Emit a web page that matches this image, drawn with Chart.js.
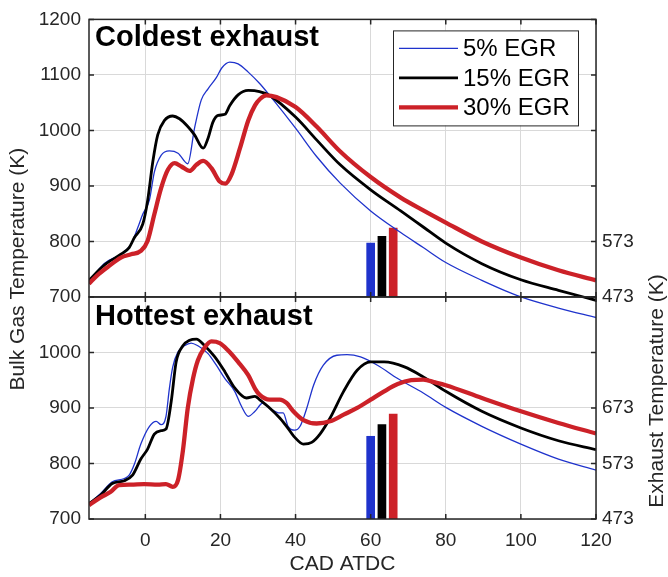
<!DOCTYPE html>
<html>
<head>
<meta charset="utf-8">
<script src="https://cdn.jsdelivr.net/npm/chart.js@4"></script>
<style>
  html, body { margin: 0; padding: 0; background: #fff; }
  #wrap { width: 668px; height: 577px; }
</style>
</head>
<body>
<div id="wrap"><canvas id="egrChart" width="668" height="577"></canvas></div>
<script>
const FONT = '"Liberation Sans", Arial, Helvetica, sans-serif';
const INK = '#262626';

const seriesLabels = ['5% EGR', '15% EGR', '30% EGR'];
const seriesColors = ['#1f33cc', '#000000', '#cc2128'];
const seriesWidths = [1.3, 2.8, 4.3];
const panelTitles = ['Coldest exhaust', 'Hottest exhaust'];

// coldest exhaust: crank angle (CAD ATDC) and bulk gas temperature (K)
const coldCad5 = [-15, -11, -6.5, -3.8, -2, -0.7, 1.1, 2.4, 4.2, 6.4, 8.7, 11.3, 13.1, 14.9, 16.7, 18.9, 20.3, 22.5, 24.7, 27.4, 30.5, 33.1, 40, 45.6, 51.9, 60, 68, 74, 80, 89.6, 100, 110, 120];
const coldTemp5 = [727, 760, 777, 795, 825, 849, 875, 925, 955, 963, 959, 940, 1004, 1055, 1075, 1095, 1112, 1123, 1120, 1105, 1084, 1063, 1004, 953, 905, 855, 816, 789, 762, 730, 700, 680, 663];
const coldCad15 = [-15, -11, -6.5, -4.3, -2.9, -0.7, 0.6, 2, 3.3, 5.1, 7.3, 9.1, 11.3, 13.1, 15.4, 16.7, 18, 19.4, 21.2, 22.5, 24.7, 27.4, 30.4, 33.1, 40, 45.6, 51.9, 60, 68, 74, 80, 89.6, 100, 110, 120];
const coldTemp15 = [730, 757, 777, 789, 807, 831, 873, 944, 992, 1018, 1026, 1021, 1007, 992, 968, 986, 1015, 1027, 1029, 1045, 1064, 1072, 1070, 1063, 1024, 983, 938, 893, 855, 826, 797, 760, 731, 712, 694];
const coldCad30 = [-15, -12.8, -10, -6.5, -3.8, -1.2, 0.6, 2.4, 4.2, 6, 7.8, 9.6, 11.8, 13.6, 15.4, 17.6, 19.8, 21.3, 22.9, 25.2, 27.4, 29.2, 30.6, 32.2, 34.9, 40, 45.6, 51.9, 60, 68, 74, 80, 89.6, 100, 110, 120];
const coldTemp30 = [724, 739, 754, 771, 777, 783, 801, 849, 896, 929, 941, 935, 927, 938, 945, 932, 908, 904, 920, 968, 1018, 1045, 1057, 1063, 1060, 1042, 1007, 962, 916, 879, 856, 834, 800, 771, 748, 730];

// hottest exhaust
const hotCad5 = [-15, -11.9, -8.8, -5.6, -4.3, -2.9, -1.2, 1.1, 2.9, 4.2, 5.5, 6.4, 7.3, 8.7, 10.4, 12.2, 14, 16.7, 18.9, 21.2, 23.8, 25.6, 27.4, 29.2, 31.3, 33.1, 35.8, 36.7, 38, 39.8, 41.2, 43, 44.8, 47.4, 51, 53.7, 57.3, 61.8, 67.2, 74, 80, 89.6, 100, 110, 120];
const hotTemp5 = [728, 746, 767, 773, 779, 799, 835, 867, 876, 870, 885, 935, 974, 1001, 1012, 1017, 1012, 998, 977, 953, 930, 903, 885, 894, 909, 900, 891, 891, 867, 860, 867, 900, 941, 977, 995, 996, 992, 977, 953, 927, 901, 867, 835, 808, 788];
const hotCad15 = [-15, -11.9, -8.8, -5.6, -3.4, -1.2, 0.6, 2.4, 4.2, 5.5, 6.9, 8.2, 10, 11.8, 13.6, 15.8, 18.5, 21.2, 23.8, 26.9, 29.2, 30.4, 33.1, 35.8, 37.6, 39.8, 42.1, 44.3, 46.5, 49.2, 52.8, 56.4, 60, 63.6, 69, 74, 80, 89.6, 100, 110, 120];
const hotTemp15 = [728, 743, 764, 769, 779, 808, 826, 853, 859, 862, 912, 983, 1012, 1022, 1024, 1012, 992, 965, 936, 918, 921, 915, 900, 882, 867, 847, 835, 838, 853, 882, 930, 968, 983, 983, 974, 956, 930, 894, 864, 841, 825];
const hotCad30 = [-15, -11.9, -9.2, -7, -3.8, -0.3, 3.3, 5.5, 7.3, 8.7, 10, 11.3, 12.7, 14, 15.8, 17.6, 19.8, 22, 24.7, 27.4, 29.2, 30.4, 33.1, 35.8, 37.6, 39.4, 42.1, 45.6, 49.2, 52.8, 56.4, 60, 63.6, 67.2, 70.8, 74, 77.2, 80, 89.6, 100, 110, 120];
const hotTemp30 = [725, 739, 749, 761, 762, 763, 762, 763, 758, 770, 823, 900, 953, 986, 1009, 1020, 1017, 1004, 983, 959, 935, 924, 915, 915, 909, 894, 878, 872, 876, 888, 900, 915, 930, 943, 950, 951, 946, 941, 918, 894, 873, 854];

// exhaust temperature bars (K), right axis
const barCad = [60, 63, 66];
const coldExhaust = [570, 582, 597];
const hotExhaust = [622, 643, 662];

// tick labels
const xTicks = [0, 20, 40, 60, 80, 100, 120];
const coldTicks = [700, 800, 900, 1000, 1100, 1200];
const hotTicks = [700, 800, 900, 1000];
const coldExhaustTicks = [473, 573];
const hotExhaustTicks = [473, 573, 673];

function curve(cad, temp, i, axis) {
    return {
        type: 'line',
        label: seriesLabels[i],
        data: cad.map((c, k) => ({ x: c, y: temp[k] })),
        yAxisID: axis,
        borderColor: seriesColors[i],
        backgroundColor: seriesColors[i],
        borderWidth: seriesWidths[i],
        pointRadius: 0,
        cubicInterpolationMode: 'monotone',
        order: 3 - i
    };
}

function bars(values, axis, base) {
    return values.map((v, i) => ({
        type: 'bar',
        label: seriesLabels[i] + ' exhaust',
        data: [{ x: barCad[i], y: v }],
        yAxisID: axis,
        backgroundColor: seriesColors[i],
        barThickness: 8,
        grouped: false,
        base: base,
        order: 6
    }));
}

function fixedTicks(list) {
    return function (scale) {
        scale.ticks = list.map(v => ({ value: v }));
    };
}

const tickFont = { family: FONT, size: 19 };
const plainLabel = v => String(v);

const panelFrame = {
    id: 'panelFrame',
    afterDraw(chart) {
        const { ctx, chartArea, scales } = chart;
        const { left, right } = chartArea;
        ctx.save();

        // boxes and inward ticks
        ctx.strokeStyle = INK;
        ctx.lineWidth = 1.5;
        [scales.yTop, scales.yBot].forEach(ys => {
            ctx.strokeRect(left, ys.top, right - left, ys.bottom - ys.top);
            ctx.beginPath();
            ys.ticks.forEach(t => {
                const y = ys.getPixelForValue(t.value);
                ctx.moveTo(left, y); ctx.lineTo(left + 5, y);
                ctx.moveTo(right, y); ctx.lineTo(right - 5, y);
            });
            scales.x.ticks.forEach(t => {
                const x = scales.x.getPixelForValue(t.value);
                ctx.moveTo(x, ys.top); ctx.lineTo(x, ys.top + 5);
                ctx.moveTo(x, ys.bottom); ctx.lineTo(x, ys.bottom - 5);
            });
            ctx.stroke();
        });

        // panel titles
        ctx.fillStyle = '#000';
        ctx.font = 'bold 29px ' + FONT;
        ctx.textAlign = 'left';
        ctx.textBaseline = 'alphabetic';
        ctx.fillText(panelTitles[0], left + 6, scales.yTop.top + 27);
        ctx.fillText(panelTitles[1], left + 6, scales.yBot.top + 28);

        // legend
        const lx = right - 203, ly = scales.yTop.top + 11, lw = 185, lh = 95;
        ctx.fillStyle = '#fff';
        ctx.fillRect(lx, ly, lw, lh);
        ctx.lineWidth = 1;
        ctx.strokeStyle = INK;
        ctx.strokeRect(lx + 0.5, ly + 0.5, lw, lh);
        ctx.font = '24px ' + FONT;
        ctx.textBaseline = 'middle';
        for (let i = 0; i < 3; i++) {
            const ds = chart.data.datasets[i];
            const y = ly + 18 + i * 29.5;
            ctx.strokeStyle = ds.borderColor;
            ctx.lineWidth = ds.borderWidth;
            ctx.beginPath();
            ctx.moveTo(lx + 6, y);
            ctx.lineTo(lx + 65, y);
            ctx.stroke();
            ctx.fillStyle = '#000';
            ctx.fillText(ds.label, lx + 70, y + 1);
        }

        // vertical axis titles
        ctx.fillStyle = INK;
        ctx.font = '21px ' + FONT;
        ctx.textAlign = 'center';
        ctx.textBaseline = 'middle';
        ctx.translate(18, (scales.yTop.top + scales.yBot.bottom) / 2);
        ctx.rotate(-Math.PI / 2);
        ctx.fillText('Bulk Gas Temperature (K)', 0, 0);
        ctx.setTransform(1, 0, 0, 1, 0, 0);
        ctx.translate(657, 391);
        ctx.rotate(-Math.PI / 2);
        ctx.fillText('Exhaust Temperature (K)', 0, 0);
        ctx.restore();
    }
};

const ctx = document.getElementById('egrChart').getContext('2d');
const egrChart = new Chart(ctx, {
    type: 'line',
    data: {
        datasets: [
            curve(coldCad5, coldTemp5, 0, 'yTop'),
            curve(coldCad15, coldTemp15, 1, 'yTop'),
            curve(coldCad30, coldTemp30, 2, 'yTop'),
            curve(hotCad5, hotTemp5, 0, 'yBot'),
            curve(hotCad15, hotTemp15, 1, 'yBot'),
            curve(hotCad30, hotTemp30, 2, 'yBot'),
            ...bars(coldExhaust, 'rTop', coldExhaustTicks[0]),
            ...bars(hotExhaust, 'rBot', hotExhaustTicks[0])
        ]
    },
    options: {
        responsive: false,
        animation: false,
        devicePixelRatio: 1,
        layout: { padding: { top: 13, left: 0, right: 0, bottom: 0 } },
        plugins: { legend: { display: false }, tooltip: { enabled: false } },
        scales: {
            x: {
                type: 'linear',
                offset: false,
                min: -15,
                max: 120,
                afterBuildTicks: fixedTicks(xTicks),
                afterFit: s => { s.height = 58; },
                grid: { color: '#d9d9d9', drawTicks: false, offset: false },
                border: { display: false },
                ticks: { font: tickFont, color: INK, padding: 10, maxRotation: 0, callback: plainLabel },
                title: { display: true, text: 'CAD ATDC', color: INK, font: { family: FONT, size: 21 }, padding: { top: 0, bottom: 0 } }
            },
            yBot: {
                type: 'linear',
                position: 'left',
                stack: 'left',
                stackWeight: 4,
                min: 700,
                max: 1100,
                afterBuildTicks: fixedTicks(hotTicks),
                afterFit: s => { s.width = 89; },
                grid: { color: '#d9d9d9', drawTicks: false },
                border: { display: false },
                ticks: { font: tickFont, color: INK, padding: 8, callback: plainLabel }
            },
            yTop: {
                type: 'linear',
                position: 'left',
                stack: 'left',
                stackWeight: 5,
                min: 700,
                max: 1200,
                clip: false,
                afterBuildTicks: fixedTicks(coldTicks),
                afterFit: s => { s.width = 89; },
                grid: { color: '#d9d9d9', drawTicks: false },
                border: { display: false },
                ticks: { font: tickFont, color: INK, padding: 8, callback: plainLabel }
            },
            rTop: {
                type: 'linear',
                position: 'right',
                stack: 'right',
                stackWeight: 5,
                min: 473,
                max: 973,
                afterBuildTicks: fixedTicks(coldExhaustTicks),
                afterFit: s => { s.width = 72; },
                grid: { display: false, drawTicks: false },
                border: { display: false },
                ticks: { font: tickFont, color: INK, padding: 6, callback: plainLabel }
            },
            rBot: {
                type: 'linear',
                position: 'right',
                stack: 'right',
                stackWeight: 4,
                min: 473,
                max: 873,
                afterBuildTicks: fixedTicks(hotExhaustTicks),
                afterFit: s => { s.width = 72; },
                grid: { display: false, drawTicks: false },
                border: { display: false },
                ticks: { font: tickFont, color: INK, padding: 6, callback: plainLabel }
            }
        }
    },
    plugins: [panelFrame]
});
</script>
</body>
</html>
